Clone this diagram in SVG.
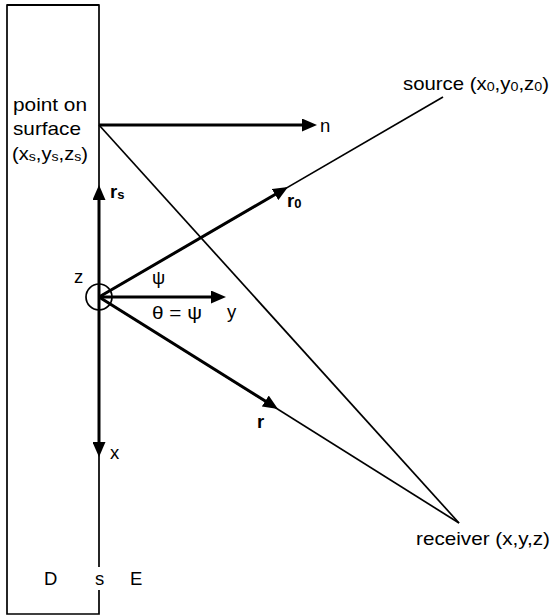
<svg xmlns="http://www.w3.org/2000/svg" width="552" height="616" viewBox="0 0 552 616">
  <style>
    text { font-family: "Liberation Sans", Arial, sans-serif; font-size: 18.5px; fill: #000; }
    .b { font-weight: bold; }
    .thin { stroke: #000; stroke-width: 1.7; fill: none; }
    .thick { stroke: #000; stroke-width: 3; fill: none; marker-end: url(#arr); }
    .sub { font-size: 13px; }
  </style>
  <defs>
    <marker id="arr" markerUnits="userSpaceOnUse" markerWidth="15" markerHeight="13" refX="9" refY="6.5" orient="auto">
      <path d="M0,0 L15,6.5 L0,13 z" fill="#000"/>
    </marker>
  </defs>
  <rect width="552" height="616" fill="#fff"/>

  <g id="wall">
    <path class="thin" d="M99,590 L99,614 L7,614 L7,5 L99,5 L99,567"/>
    <path d="M7,5 L99,5" stroke="#000" stroke-width="2"/>
    <text x="44" y="585">D</text>
    <text x="99.5" y="585" text-anchor="middle">s</text>
    <text x="130" y="585">E</text>
  </g>

  <g id="surface-point">
    <text x="13" y="111" textLength="74" lengthAdjust="spacingAndGlyphs">point on</text>
    <text x="13" y="135" textLength="68" lengthAdjust="spacingAndGlyphs">surface</text>
    <text x="12" y="160" textLength="76" lengthAdjust="spacingAndGlyphs">(x<tspan class="sub" dy="1">s</tspan><tspan dy="-1">,y</tspan><tspan class="sub" dy="1">s</tspan><tspan dy="-1">,z</tspan><tspan class="sub" dy="1">s</tspan><tspan dy="-1">)</tspan></text>
  </g>

  <g id="origin">
    <circle cx="99" cy="297" r="13" class="thin"/>
    <text x="74" y="283">z</text>
    <text x="152" y="284">ψ</text>
    <text x="152" y="319" textLength="50" lengthAdjust="spacingAndGlyphs">θ = ψ</text>
  </g>

  <g id="source">
    <text x="403" y="90" textLength="146" lengthAdjust="spacingAndGlyphs">source (x<tspan class="sub" dy="1">0</tspan><tspan dy="-1">,y</tspan><tspan class="sub" dy="1">0</tspan><tspan dy="-1">,z</tspan><tspan class="sub" dy="1">0</tspan><tspan dy="-1">)</tspan></text>
  </g>

  <g id="receiver">
    <text x="416" y="545" textLength="134" lengthAdjust="spacingAndGlyphs">receiver (x,y,z)</text>
  </g>

  <g id="connectors">
    <line class="thin" x1="99" y1="297" x2="443" y2="97"/>
    <line class="thin" x1="99" y1="297" x2="459" y2="523"/>
    <line class="thin" x1="99" y1="125" x2="459" y2="523"/>
    <line class="thick" x1="99" y1="125" x2="311" y2="125"/>
    <line class="thick" x1="99" y1="297" x2="99" y2="191"/>
    <line class="thick" x1="99" y1="297" x2="99" y2="451"/>
    <line class="thick" x1="99" y1="297" x2="220" y2="297"/>
    <line class="thick" x1="99" y1="297" x2="282.8" y2="190"/>
    <line class="thick" x1="99" y1="297" x2="272.9" y2="405.8"/>
  </g>

  <g id="axis-labels">
    <text x="320" y="132">n</text>
    <text x="227" y="318">y</text>
    <text x="110" y="459">x</text>
    <text class="b" x="110" y="198">r<tspan class="sub" dy="1">s</tspan></text>
    <text class="b" x="287" y="207">r<tspan class="sub" dy="1">0</tspan></text>
    <text class="b" x="257" y="428">r</text>
  </g>
</svg>
